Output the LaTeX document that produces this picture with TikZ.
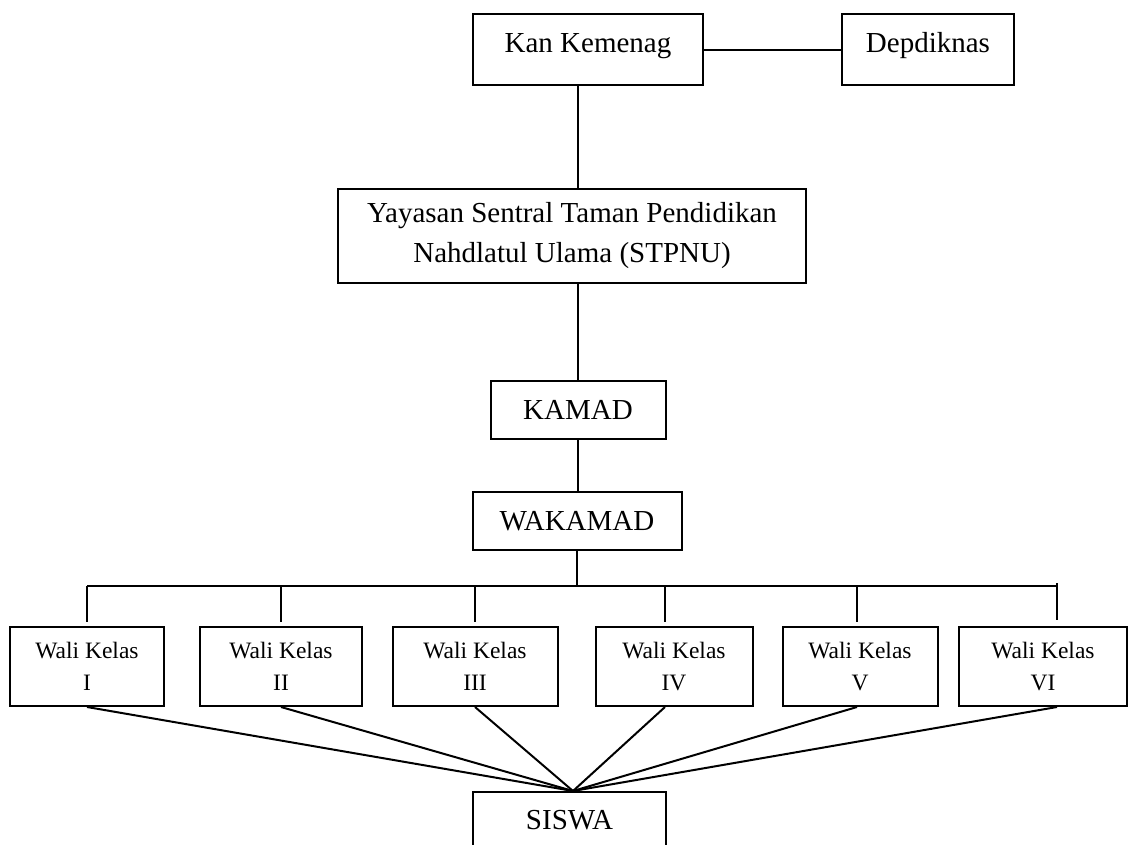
\documentclass[tikz,border=0pt]{standalone}
\usepackage{fontspec}
\setmainfont{Liberation Serif}
\usetikzlibrary{calc}
\tikzset{
  box/.style={draw, line width=2pt, inner sep=0pt, align=center, font=\fontsize{29}{40}\selectfont},
  wbox/.style={draw, line width=2pt, inner sep=0pt, align=center, minimum width=#1, minimum height=79pt, font=\fontsize{23.5}{32}\selectfont},
  conn/.style={line width=2pt}
}
\begin{document}
\begin{tikzpicture}[x=1pt,y=-1pt]
\useasboundingbox (0,0) rectangle (1130,845);
\fill[white] (0,0) rectangle (1130,845);
% top level
\node[box, minimum width=230pt, minimum height=71pt, text height=20pt, text depth=14pt] (kan) at (588,50) {Kan Kemenag};
\node[box, minimum width=172pt, minimum height=71pt, text height=20pt, text depth=14pt] (dep) at (928,50) {Depdiknas};
\node[box, minimum width=468pt, minimum height=94pt] (yay) at (572,236) {Yayasan Sentral Taman Pendidikan\\Nahdlatul Ulama (STPNU)};
\node[box, minimum width=175pt, minimum height=58pt] (kamad) at (578,410) {KAMAD};
\node[box, minimum width=209pt, minimum height=58pt] (wakamad) at (577,521) {WAKAMAD};
% wali kelas
\node[wbox=154pt] (w1) at (87,666.5) {Wali Kelas\\I};
\node[wbox=162pt] (w2) at (281,666.5) {Wali Kelas\\II};
\node[wbox=165pt] (w3) at (475,666.5) {Wali Kelas\\III};
\node[wbox=157pt] (w4) at (674,666.5) {Wali Kelas\\IV};
\node[wbox=155pt] (w5) at (860,666.5) {Wali Kelas\\V};
\node[wbox=168pt] (w6) at (1043,666.5) {Wali Kelas\\VI};
\node[box, minimum width=193pt, minimum height=56pt] (siswa) at (569.5,820) {SISWA};
% connection points
\coordinate (bus) at (577,586);
\coordinate (d1) at (w1.north);
\coordinate (d2) at (w2.north);
\coordinate (d3) at (w3.north);
\coordinate (d4) at ([xshift=-9pt]w4.north);
\coordinate (d5) at ([xshift=-3pt]w5.north);
\coordinate (d6) at ([xshift=14pt]w6.north);
\coordinate (b1) at (w1.south);
\coordinate (b2) at (w2.south);
\coordinate (b3) at (w3.south);
\coordinate (b4) at ([xshift=-9pt]w4.south);
\coordinate (b5) at ([xshift=-3pt]w5.south);
\coordinate (b6) at ([xshift=14pt]w6.south);
\coordinate (sp) at ([xshift=3.5pt]siswa.north);
% connectors
\draw[conn] (kan.east) -- (dep.west);
\draw[conn] ([xshift=-10pt]kan.south) -- ([xshift=-10pt]kan.south |- yay.north);
\draw[conn] (yay.south -| kamad.north) -- (kamad.north);
\draw[conn] (kamad.south) -- (kamad.south |- wakamad.north);
\draw[conn] (wakamad.south) -- (bus);
\draw[conn] (d1 |- bus) -- (d6 |- bus);
\foreach \i in {1,...,5} {
  \draw[conn, shorten >=4pt] (d\i |- bus) -- (d\i);
}
\draw[conn, shorten >=6pt] ([yshift=3pt]d6 |- bus) -- (d6);
\foreach \i in {1,...,6} {
  \draw[conn] (b\i) -- (sp);
}
\end{tikzpicture}
\end{document}
